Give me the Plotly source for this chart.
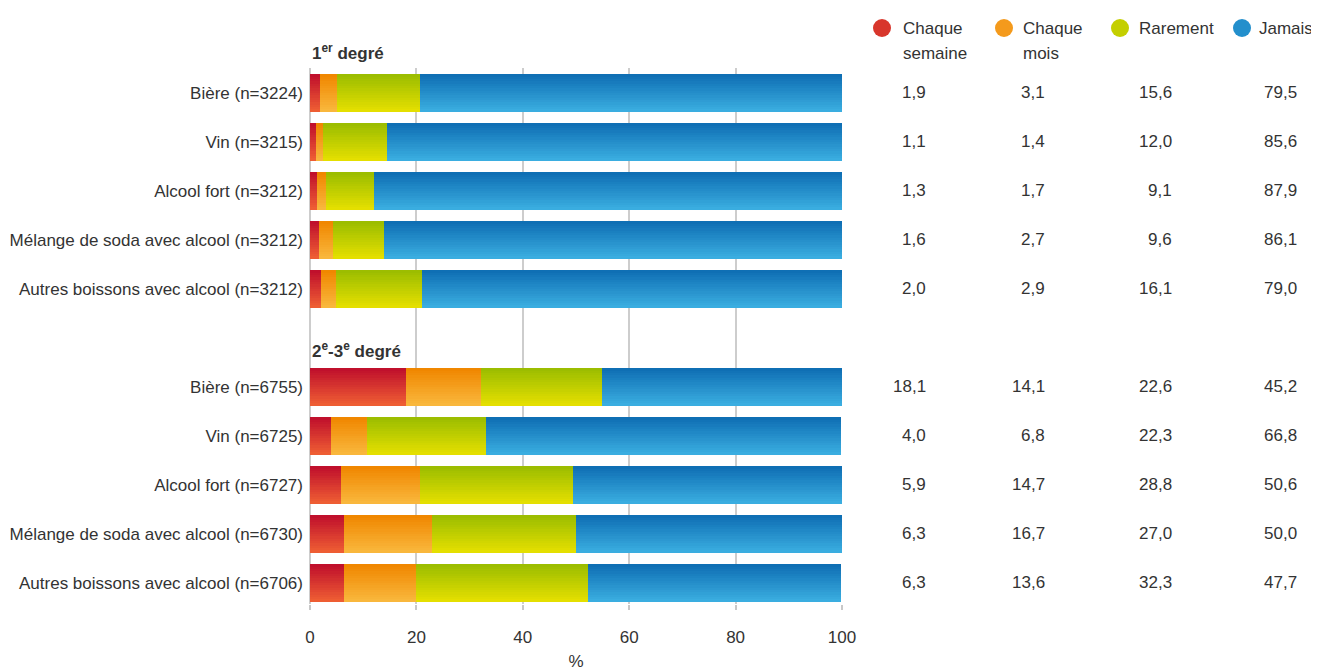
import plotly.graph_objects as go

# ---------------- data ----------------
labels_g1 = ["Bière (n=3224)", "Vin (n=3215)", "Alcool fort (n=3212)",
             "Mélange de soda avec alcool (n=3212)", "Autres boissons avec alcool (n=3212)"]
labels_g2 = ["Bière (n=6755)", "Vin (n=6725)", "Alcool fort (n=6727)",
             "Mélange de soda avec alcool (n=6730)", "Autres boissons avec alcool (n=6706)"]
group_titles = ["1<sup>er</sup> degré", "2<sup>e</sup>-3<sup>e</sup> degré"]
series_names = ["Chaque semaine", "Chaque mois", "Rarement", "Jamais"]
legend_lines = [["Chaque", "semaine"], ["Chaque", "mois"], ["Rarement"], ["Jamais"]]

semaine_g1 = [1.9, 1.1, 1.3, 1.6, 2.0]
mois_g1 = [3.1, 1.4, 1.7, 2.7, 2.9]
rarement_g1 = [15.6, 12.0, 9.1, 9.6, 16.1]
jamais_g1 = [79.5, 85.6, 87.9, 86.1, 79.0]

semaine_g2 = [18.1, 4.0, 5.9, 6.3, 6.3]
mois_g2 = [14.1, 6.8, 14.7, 16.7, 13.6]
rarement_g2 = [22.6, 22.3, 28.8, 27.0, 32.3]
jamais_g2 = [45.2, 66.8, 50.6, 50.0, 47.7]

x_ticks = [0, 20, 40, 60, 80, 100]
x_title = "%"

# ---------------- layout helpers ----------------
FONT = "Liberation Sans, Arial, sans-serif"
TXT = "#333333"
FS = 17

# row positions (in row units): group 1 rows 0..4, group 2 rows 6..10
pos_g1 = [0, 1, 2, 3, 4]
pos_g2 = [6, 7, 8, 9, 10]
positions = pos_g1 + pos_g2
labels = labels_g1 + labels_g2
series = [semaine_g1 + semaine_g2, mois_g1 + mois_g2,
          rarement_g1 + rarement_g2, jamais_g1 + jamais_g2]

top_colors = ["#c0102c", "#f08700", "#9cbd00", "#0f6fb4"]
bot_colors = ["#ee5d33", "#f9b73c", "#e4df00", "#3aade0"]
mid_colors = ["#d8362c", "#f49a1c", "#c4cf00", "#238fcc"]


def hex2rgb(h):
    h = h.lstrip("#")
    return [int(h[i:i + 2], 16) for i in (0, 2, 4)]


def lerp(c1, c2, t):
    a, b = hex2rgb(c1), hex2rgb(c2)
    return "rgb(%d,%d,%d)" % tuple(round(a[i] + (b[i] - a[i]) * t) for i in range(3))


BAR_W = 0.76
N_STRIPS = 16

fig = go.Figure()

bases = [0.0] * len(positions)
for si, vals in enumerate(series):
    for k in range(N_STRIPS):
        t = k / (N_STRIPS - 1)
        sw = BAR_W / N_STRIPS
        extra = sw * 0.3 if k < N_STRIPS - 1 else 0
        fig.add_trace(go.Bar(
            y=positions, x=vals, base=list(bases), orientation="h",
            width=sw + extra, offset=-BAR_W / 2 + k * sw,
            marker=dict(color=lerp(top_colors[si], bot_colors[si], t), line=dict(width=0)),
            showlegend=False, hoverinfo="skip" if k else "x+name", name=series_names[si],
        ))
    bases = [b + v for b, v in zip(bases, vals)]

# plot area geometry (figure pixels; page adds an 8px body margin)
OFF = 8
W, H = 1319 - OFF, 671 - OFF
L, R, T, B = 310 - OFF, 477, 68 - OFF, 67
PW = W - L - R
PH = H - T - B


def px_x(px):
    return (px - OFF - L) / PW


def px_y(py):
    return (H - B - (py - OFF)) / PH


# ---------------- value table ----------------
col_right_px = [928, 1047, 1174, 1299]
annotations = []
for si, vals in enumerate(series):
    for p, v in zip(positions, vals):
        annotations.append(dict(
            x=px_x(col_right_px[si]), xref="paper", y=p, yref="y", xanchor="right", yanchor="middle",
            text=f"{v:.1f}".replace(".", ","), showarrow=False,
            font=dict(family=FONT, size=FS, color=TXT)))

# ---------------- legend ----------------
leg_circle_px = [882, 1004, 1120, 1242]
leg_text_px = [901, 1021, 1137, 1257]
leg_line_px = [28, 54]
shapes = []
for si in range(4):
    shapes.append(dict(
        type="circle", xref="paper", yref="paper", xsizemode="pixel", ysizemode="pixel",
        xanchor=px_x(leg_circle_px[si]), yanchor=px_y(leg_line_px[0]), x0=-9, x1=9, y0=-9, y1=9,
        fillcolor=mid_colors[si], line=dict(width=0)))
    for li, line in enumerate(legend_lines[si]):
        annotations.append(dict(
            x=px_x(leg_text_px[si]), xref="paper", y=px_y(leg_line_px[li]), yref="paper",
            xanchor="left", yanchor="middle", text=line, showarrow=False,
            font=dict(family=FONT, size=FS, color=TXT)))

# ---------------- group headers ----------------
header_px = [52, 350]
for gi, title in enumerate(group_titles):
    annotations.append(dict(
        x=0, xref="paper", y=px_y(header_px[gi]), yref="paper", xanchor="left", yanchor="middle",
        text="<b>" + title + "</b>", showarrow=False,
        font=dict(family=FONT, size=FS, color=TXT)))

fig.update_layout(
    width=W, height=H,
    margin=dict(l=L, r=R, t=T, b=B, autoexpand=False),
    paper_bgcolor="white", plot_bgcolor="white",
    barmode="overlay", bargap=0,
    font=dict(family=FONT, size=FS, color=TXT),
    annotations=annotations, shapes=shapes,
    xaxis=dict(
        range=[0, 100], tickvals=x_ticks, ticks="outside", ticklen=5, tickcolor="#c8c8c8",
        tickwidth=1.5, showgrid=True, gridcolor="#cdcdcd", gridwidth=1.5,
        zeroline=True, zerolinecolor="#cdcdcd", zerolinewidth=1.5,
        showline=False, ticklabelstandoff=13, automargin=False,
        title=dict(text=x_title, standoff=10, font=dict(family=FONT, size=FS, color=TXT)),
        tickfont=dict(family=FONT, size=FS, color=TXT), fixedrange=True,
    ),
    yaxis=dict(
        range=[10.43, -0.51], tickvals=positions, ticktext=labels, showgrid=False,
        zeroline=False, showline=False, ticks="", ticklabelstandoff=6, automargin=False,
        tickfont=dict(family=FONT, size=FS, color=TXT), fixedrange=True,
    ),
)

fig.write_html("out.html")
